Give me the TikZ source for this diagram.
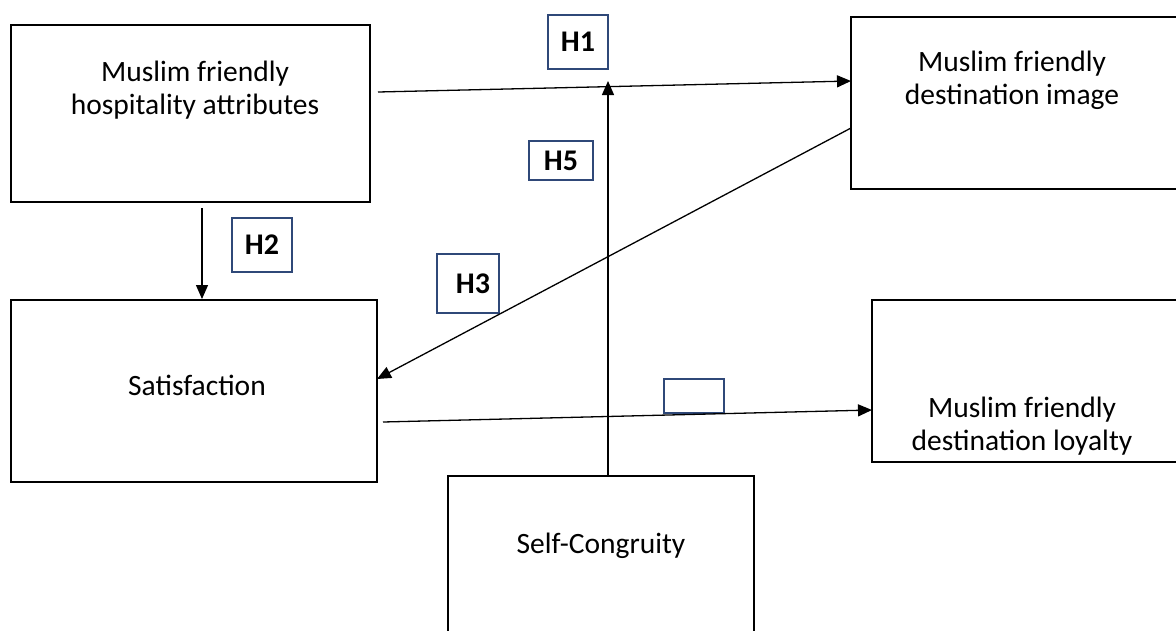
\documentclass[tikz,border=0pt]{standalone}
\usepackage{fontspec}
\setmainfont{Carlito}
\usetikzlibrary{arrows.meta}
\definecolor{hblue}{RGB}{47,72,120}
\begin{document}
\begin{tikzpicture}[x=1pt,y=-1pt,
  box/.style={draw=black,line width=2.8pt,rectangle,inner sep=0pt},
  txt/.style={align=center,font=\fontsize{29.5}{33}\selectfont,inner sep=0pt},
  hbox/.style={draw=hblue,line width=1.4pt,rectangle,inner sep=0pt,font=\fontsize{30}{33}\selectfont\bfseries},
  arr/.style={line width=1.3pt,-{Triangle[length=14pt,width=12pt]}}]
\useasboundingbox (0,0) rectangle (1176,630);
\clip (0,0) rectangle (1176,630);
% boxes
\node[box,minimum width=359pt,minimum height=177pt] (A) at (190.5,113.5) {};
\node[box,minimum width=366pt,minimum height=182pt] (S) at (194,391) {};
\node[box,minimum width=339pt,minimum height=172pt] (D) at (1020.5,103) {};
\node[box,minimum width=318pt,minimum height=162pt] (L) at (1031,381) {};
\node[box,minimum width=306pt,minimum height=174pt] (C) at (601,563) {};
% texts
\node[txt] (tA) at (195,90) {Muslim friendly\\hospitality attributes};
\node[txt] (tS) at (197,385) {Satisfaction};
\node[txt] (tD) at (1012,80) {Muslim friendly\\destination image};
\node[txt] (tL) at (1022,426) {Muslim friendly\\destination loyalty};
\node[txt] (tC) at (601,546) {Self-Congruity};
% hypothesis labels
\node[hbox,minimum width=60pt,minimum height=54pt] (H1) at (578,42) {H1};
\node[hbox,minimum width=64pt,minimum height=39pt] (H5) at (561,160.5) {H5};
\node[hbox,minimum width=60pt,minimum height=54pt] (H2) at (262,245) {H2};
\node[hbox,minimum width=62pt,minimum height=59pt] (H3) at (468,283.5) {\hspace{10pt}H3};
\node[hbox,minimum width=60pt,minimum height=34pt] (H4) at (694,396) {};
% connector points
\coordinate (h1s) at (378,92);
\coordinate (h1e) at (851,81);
\coordinate (h5s) at (608,476);
\coordinate (h5e) at (608,81);
\coordinate (h2s) at (202,208);
\coordinate (h2e) at (202,299);
\coordinate (h3s) at (851,128);
\coordinate (h3e) at (377,379);
\coordinate (h4s) at (383,422);
\coordinate (h4e) at (872,410);
\draw[arr] (h1s) -- (h1e);
\draw[arr] (h5s) -- (h5e);
\draw[arr] (h2s) -- (h2e);
\draw[arr] (h3s) -- (h3e);
\draw[arr] (h4s) -- (h4e);
\end{tikzpicture}
\end{document}
